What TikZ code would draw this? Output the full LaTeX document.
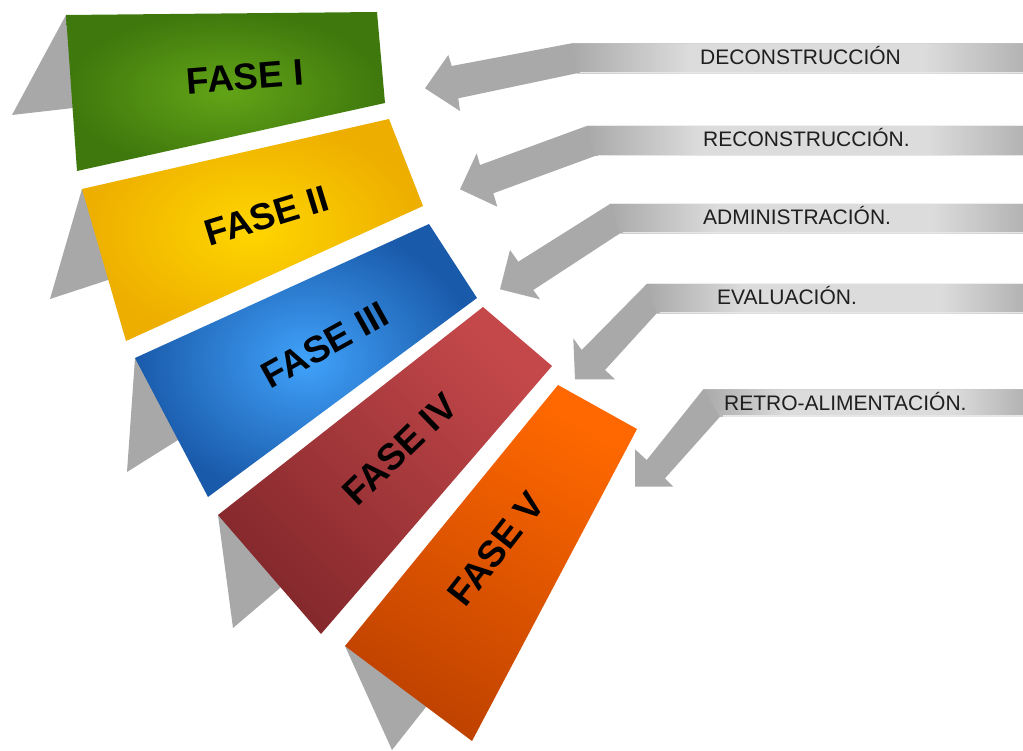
\documentclass[tikz,border=0pt]{standalone}
\usepackage{fontspec}
\setmainfont{Liberation Sans}
\definecolor{gIn}{HTML}{62A417}
\definecolor{gOut}{HTML}{3F780D}
\definecolor{yIn}{HTML}{FFD600}
\definecolor{yOut}{HTML}{EDAE00}
\definecolor{bIn}{HTML}{40A2FA}
\definecolor{bOut}{HTML}{1A5AAA}
\definecolor{rL}{HTML}{C4484A}
\definecolor{rD}{HTML}{84282C}
\definecolor{oL}{HTML}{FF6800}
\definecolor{oD}{HTML}{BF4200}
\definecolor{flapgray}{HTML}{A8A8A8}
\definecolor{aG}{HTML}{A9A9A9}
\definecolor{aL}{HTML}{DCDCDC}
\definecolor{aR}{HTML}{B3B3B3}
\definecolor{aLine}{HTML}{E6E6E6}
\pgfdeclarehorizontalshading{bandshade}{100bp}{color(0bp)=(aG); color(25bp)=(aG); color(38bp)=(aL); color(64bp)=(aL); color(75bp)=(aR); color(100bp)=(aR)}
\begin{document}
\begin{tikzpicture}[x=1pt,y=-1pt,
  flap/.style={fill=flapgray},
  arrowbody/.style={fill=aG},
  bandpart/.style={shading=bandshade},
  bandline/.style={draw=aLine, line width=1.2pt},
  fasetext/.style={font=\bfseries\fontsize{37}{42}\selectfont, text=black, inner sep=0pt},
  arrowlabel/.style={font=\fontsize{21}{24}\selectfont, anchor=base west, inner sep=0pt, text=black!88}]
\useasboundingbox (0,0) rectangle (1023,751);
\fill[white] (0,0) rectangle (1023,751);

% ---- gray flaps behind the bands
\fill[flap] (66,15) -- (12,115) -- (73,108) -- (90,100) -- cycle;
\fill[flap] (82,189) -- (50,299) -- (108,280) -- (125,260) -- cycle;
\fill[flap] (135,358) -- (127,472) -- (178,440) -- (195,420) -- cycle;
\fill[flap] (218,515) -- (233,628) -- (280,588) -- (295,570) -- cycle;
\fill[flap] (345,646) -- (392,750) -- (426,707) -- (440,690) -- cycle;

% ---- bands
\shade[inner color=gIn, outer color=gOut] (66,15) -- (377,12) -- (385,103) -- (77,171) -- cycle;
\shade[inner color=yIn, outer color=yOut] (82,189) -- (389,119) -- (423,206) -- (126,341) -- cycle;
\shade[inner color=bIn, outer color=bOut] (135,358) -- (429,224) -- (477,298) -- (208,497) -- cycle;
\shade[top color=rL, bottom color=rD, shading angle=-45] (218,515) -- (483,307) -- (552,366) -- (321,634) -- cycle;
\shade[top color=oL, bottom color=oD, shading angle=-30] (345,646) -- (558,385) -- (637,429) -- (472,741) -- cycle;

% ---- band labels
\node[fasetext, rotate=4.5] (f1) at (245,77) {FASE I};
\node[fasetext, rotate=17] (f2) at (267,216) {FASE II};
\node[fasetext, rotate=29] (f3) at (325,345) {FASE III};
\node[fasetext, rotate=44] (f4) at (400,449) {FASE IV};
\node[fasetext, rotate=52] (f5) at (496,549) {FASE V};

% ---- arrows
\fill[arrowbody] (1023,43.3) -- (571.7,43.3) -- (451.7,66) -- (448.3,55) -- (425,88.3) -- (460,111) -- (458.3,98.3) -- (576.7,73.3) -- (1023,73.3) -- cycle;
\shade[bandpart] (571.7,43.3) -- (1023,43.3) -- (1023,73.3) -- (576.7,73.3) -- cycle;
\draw[bandline] (580,72.6) -- (1023,72.6);

\fill[arrowbody] (1023,126) -- (586.7,126) -- (480,165) -- (476.7,153.3) -- (460,189.3) -- (497.3,206.7) -- (493.3,193.3) -- (595,156) -- (1023,156) -- cycle;
\shade[bandpart] (586.7,126) -- (1023,126) -- (1023,156) -- (595,156) -- cycle;
\draw[bandline] (598,155.3) -- (1023,155.3);

\fill[arrowbody] (1023,204) -- (610,204) -- (518.3,261.7) -- (510,250) -- (500,289.3) -- (540,299.3) -- (533.3,290) -- (620,233.3) -- (1023,233.3) -- cycle;
\shade[bandpart] (610,204) -- (1023,204) -- (1023,233.3) -- (620,233.3) -- cycle;
\draw[bandline] (623,232.6) -- (1023,232.6);

\fill[arrowbody] (1023,284) -- (646.7,284) -- (581.7,350) -- (573.3,338.3) -- (575,379.3) -- (615,379.3) -- (605,370) -- (656.7,313.3) -- (1023,313.3) -- cycle;
\shade[bandpart] (646.7,284) -- (1023,284) -- (1023,313.3) -- (656.7,313.3) -- cycle;
\draw[bandline] (660,312.6) -- (1023,312.6);

\fill[arrowbody] (1023,389.3) -- (703.3,389.3) -- (646.7,460) -- (635,449.3) -- (635,486.7) -- (673.3,486.7) -- (665,478.3) -- (720,416.7) -- (1023,416.7) -- cycle;
\shade[bandpart] (703.3,389.3) -- (1023,389.3) -- (1023,416.7) -- (720,416.7) -- cycle;
\draw[bandline] (723,416) -- (1023,416);

% ---- arrow labels
\node[arrowlabel] (l1) at (700,64.5) {DECONSTRUCCIÓN};
\node[arrowlabel] (l2) at (703,146.5) {RECONSTRUCCIÓN.};
\node[arrowlabel] (l3) at (703,225) {ADMINISTRACIÓN.};
\node[arrowlabel] (l4) at (717,305) {EVALUACIÓN.};
\node[arrowlabel] (l5) at (724,410.5) {RETRO-ALIMENTACIÓN.};
\end{tikzpicture}
\end{document}
